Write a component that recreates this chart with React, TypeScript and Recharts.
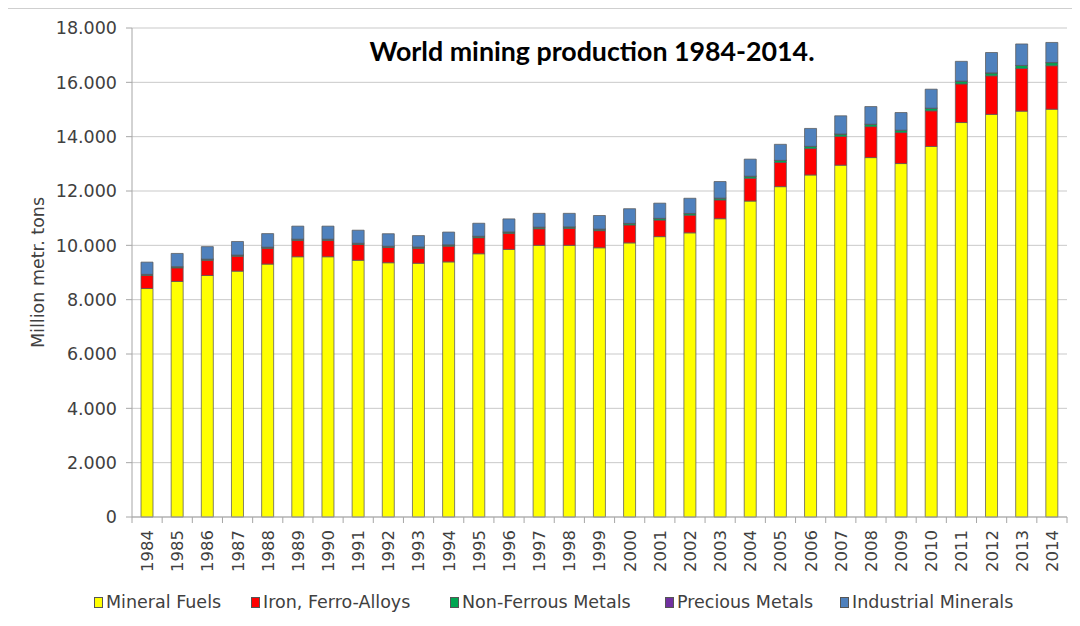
import { BarChart, Bar, XAxis, YAxis, CartesianGrid } from "recharts";

const years = [
  "1984", "1985", "1986", "1987", "1988", "1989", "1990", "1991", "1992", "1993",
  "1994", "1995", "1996", "1997", "1998", "1999", "2000", "2001", "2002", "2003",
  "2004", "2005", "2006", "2007", "2008", "2009", "2010", "2011", "2012", "2013", "2014",
];

const mineralFuels = [
  8410, 8670, 8890, 9050, 9310, 9580, 9580, 9450, 9360, 9340,
  9390, 9690, 9850, 10000, 10000, 9910, 10090, 10320, 10460, 10980,
  11630, 12160, 12590, 12950, 13230, 13010, 13640, 14520, 14820, 14940, 15010,
];

const ironFerroAlloys = [
  480, 500, 560, 550, 580, 600, 600, 580, 560, 550,
  580, 590, 590, 610, 620, 630, 660, 610, 650, 690,
  840, 890, 970, 1060, 1140, 1140, 1310, 1420, 1420, 1570, 1600,
];

const nonFerrousMetals = [
  40, 40, 40, 40, 40, 45, 45, 45, 45, 45,
  45, 50, 50, 55, 55, 55, 55, 60, 60, 65,
  70, 75, 80, 85, 85, 85, 95, 100, 105, 110, 115,
];

const preciousMetals = [
  2, 2, 2, 2, 2, 2, 2, 2, 2, 3,
  3, 3, 3, 3, 3, 3, 3, 3, 3, 3,
  3, 3, 3, 3, 3, 3, 3, 3, 3, 3, 3,
];

const industrialMinerals = [
  450, 490, 460, 500, 500, 480, 480, 480, 460, 420,
  470, 480, 480, 510, 500, 500, 540, 560, 560, 610,
  630, 590, 660, 670, 650, 650, 700, 730, 750, 790, 740,
];

const yTicks = [0, 2000, 4000, 6000, 8000, 10000, 12000, 14000, 16000, 18000];

const series = [
  { key: "fuels", name: "Mineral Fuels", color: "#FFFF00" },
  { key: "iron", name: "Iron, Ferro-Alloys", color: "#FF0000" },
  { key: "nonFerrous", name: "Non-Ferrous Metals", color: "#00A651" },
  { key: "precious", name: "Precious Metals", color: "#7030A0" },
  { key: "industrial", name: "Industrial Minerals", color: "#4F81BD" },
];

// left edge of each legend entry (marker), as in the original layout
const legendLeft = [94, 251, 450, 665, 840];

const data = years.map((year, i) => ({
  year,
  fuels: mineralFuels[i],
  iron: ironFerroAlloys[i],
  nonFerrous: nonFerrousMetals[i],
  precious: preciousMetals[i],
  industrial: industrialMinerals[i],
}));

const FONT = "'DejaVu Sans', Verdana, sans-serif";
const TEXT = "#404040";
const AXIS = "#a6a6a6";

// plot runs from x=132 to x=1067, so half a category is this wide
const HALF_BAND = (1067 - 132) / years.length / 2;

const fmt = (v: number) =>
  v === 0 ? "0" : String(v).replace(/\B(?=(\d{3})+(?!\d))/g, ".");

const YearTick = (props: any) => {
  const { x, y, payload, index } = props;
  const last = index === years.length - 1;
  return (
    <g>
      <line x1={x - HALF_BAND} x2={x - HALF_BAND} y1={y - 9} y2={y - 3} stroke={AXIS} />
      {last && <line x1={x + HALF_BAND} x2={x + HALF_BAND} y1={y - 9} y2={y - 3} stroke={AXIS} />}
      <text
        x={x}
        y={y + 4}
        dy="0.36em"
        transform={`rotate(-90, ${x}, ${y + 4})`}
        textAnchor="end"
        fontSize={16.5}
        fontFamily={FONT}
        fill={TEXT}
      >
        {payload.value}
      </text>
    </g>
  );
};

const YLabel = (props: any) => {
  const { viewBox } = props;
  const cx = viewBox.x + 38;
  const cy = viewBox.y + viewBox.height / 2;
  return (
    <text
      x={cx}
      y={cy}
      transform={`rotate(-90, ${cx}, ${cy})`}
      textAnchor="middle"
      dy="0.36em"
      fontSize={17.5}
      fontFamily={FONT}
      fill={TEXT}
    >
      Million metr. tons
    </text>
  );
};

export default function App() {
  return (
    <div style={{ position: "relative", width: 1080, height: 626, margin: -8, background: "#fff", overflow: "hidden" }}>
      <div
        style={{
          position: "absolute",
          left: 7,
          top: 8,
          width: 1100,
          height: 660,
          border: "1px solid #cfcfcf",
        }}
      />
      <div style={{ position: "absolute", left: 0, top: 0 }}>
        <BarChart
          width={1080}
          height={626}
          data={data}
          barSize={12}
          margin={{ top: 28, right: 13, bottom: 0, left: 0 }}
        >
          <CartesianGrid vertical={false} stroke="#c9c9c9" />
          <XAxis
            dataKey="year"
            height={109}
            interval={0}
            tickSize={6}
            tickMargin={3}
            tickLine={false}
            axisLine={{ stroke: AXIS }}
            tick={<YearTick />}
          />
          <YAxis
            width={132}
            domain={[0, 18000]}
            ticks={yTicks}
            interval={0}
            tickFormatter={fmt}
            tickSize={6}
            tickMargin={9}
            tickLine={{ stroke: AXIS }}
            axisLine={{ stroke: AXIS }}
            tick={{ fill: TEXT, fontSize: 17.5, fontFamily: FONT }}
            label={{ content: <YLabel /> }}
          />
          {series.map((s) => (
            <Bar
              key={s.key}
              dataKey={s.key}
              name={s.name}
              stackId="a"
              fill={s.color}
              stroke="#5a5a5a"
              strokeOpacity={0.75}
              strokeWidth={1}
              isAnimationActive={false}
            />
          ))}
        </BarChart>
      </div>
      <svg width={1080} height={100} style={{ position: "absolute", left: 0, top: 0, pointerEvents: "none" }}>
        <text
          x={592}
          y={61}
          textAnchor="middle"
          fontSize={26}
          fontWeight="bold"
          fontFamily="Lato, 'Open Sans', sans-serif"
          fill="#000"
          textLength={445}
          lengthAdjust="spacingAndGlyphs"
        >
          World mining production 1984-2014.
        </text>
      </svg>
      {series.map((s, i) => (
        <div
          key={s.key}
          style={{
            position: "absolute",
            left: legendLeft[i],
            top: 592,
            display: "flex",
            alignItems: "center",
            gap: 3,
            fontFamily: FONT,
            fontSize: 17.5,
            color: TEXT,
            whiteSpace: "nowrap",
          }}
        >
          <span
            style={{
              display: "inline-block",
              width: 7,
              height: 9,
              background: s.color,
              border: "1px solid #555",
            }}
          />
          <span>{s.name}</span>
        </div>
      ))}
    </div>
  );
}
